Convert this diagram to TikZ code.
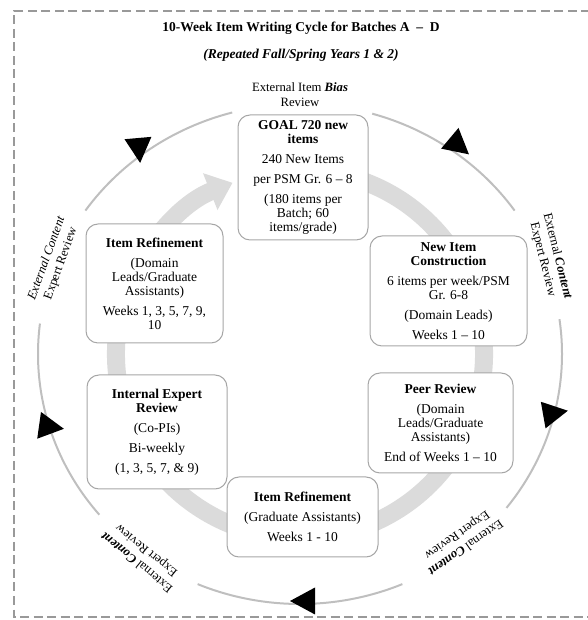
\documentclass[tikz,border=0pt]{standalone}
\usepackage{fontspec}
\setmainfont{Liberation Serif}
\usetikzlibrary{positioning, arrows.meta}
\tikzstyle{Box} = [
draw=black!35, line width=1pt, fill=white,
rounded corners=12pt, align=center, inner sep=2pt,
font=\fontsize{13.5}{14}\selectfont]
\tikzstyle{Ring} = [
line width=18pt, draw=black!14,
-{Triangle[width=38pt, length=24pt]}]
\tikzstyle{Cycle} = [line width=2pt, draw=black!25]
\tikzstyle{Label} = [align=center, inner sep=0pt,
font=\fontsize{12.7}{15}\selectfont]
\tikzstyle{Head} = [fill=black]

\begin{document}
\begin{tikzpicture}[x=1pt, y=1pt]
    \useasboundingbox (0,0) rectangle (587,620);
    \draw[black!40, line width=2.5pt, dash pattern=on 9pt off 4.5pt]
        (590,609) -- (14,609) -- (14,3) -- (590,3);
    \coordinate (0) at (300,266);

    \draw[Ring] (0) ++(72:184) arc[start angle=72, end angle=-248.5, radius=184];

    \draw[Cycle] (0) ++(74:262 and 250) arc[start angle=74, end angle=35, x radius=262, y radius=250];
    \draw[Cycle] (0) ++(8:262 and 250) arc[start angle=8, end angle=-38, x radius=262, y radius=250];
    \draw[Cycle] (0) ++(-67:262 and 250) arc[start angle=-67, end angle=-113, x radius=262, y radius=250];
    \draw[Cycle] (0) ++(220:262 and 250) arc[start angle=220, end angle=173, x radius=262, y radius=250];
    \draw[Cycle] (0) ++(145:262 and 250) arc[start angle=145, end angle=105, x radius=262, y radius=250];

    \fill[Head, shift={(139,470)}, rotate=-85] (13,0) -- (-12,13.5) -- (-12,-13.5) -- cycle;
    \fill[Head, shift={(459,474)}, rotate=-40] (13,0) -- (-12,13.5) -- (-12,-13.5) -- cycle;
    \fill[Head, shift={(555,207)}, rotate=10] (13,0) -- (-12,13.5) -- (-12,-13.5) -- cycle;
    \fill[Head, shift={(303,19)}, rotate=180] (13,0) -- (-12,13.5) -- (-12,-13.5) -- cycle;
    \fill[Head, shift={(51,193)}, rotate=-8] (13,0) -- (-12,13.5) -- (-12,-13.5) -- cycle;

    \node [Box, minimum width=130pt, minimum height=125pt] (1) at (303,442.5)
        {\textbf{GOAL 720 new}\\\textbf{items}\\[6pt]240 New Items\\[6pt]per PSM Gr. 6 -- 8\\[6pt](180 items per\\Batch; 60\\items/grade)};
    \node [Box, minimum width=157pt, minimum height=110pt] (2) at (448.5,329)
        {\textbf{New Item}\\\textbf{Construction}\\[6pt]6 items per week/PSM\\Gr. 6-8\\[6pt](Domain Leads)\\[6pt]Weeks 1 -- 10};
    \node [Box, minimum width=145pt, minimum height=100pt] (3) at (440.5,197)
        {\textbf{Peer Review}\\[6pt](Domain\\Leads/Graduate\\Assistants)\\[6pt]End of Weeks 1 -- 10};
    \node [Box, minimum width=151pt, minimum height=80pt] (4) at (302.5,103)
        {\textbf{Item Refinement}\\[6pt](Graduate Assistants)\\[6pt]Weeks 1 - 10};
    \node [Box, minimum width=140pt, minimum height=114pt] (5) at (157,188)
        {\textbf{Internal Expert}\\\textbf{Review}\\[6pt](Co-PIs)\\[6pt]Bi-weekly\\[6pt](1, 3, 5, 7, \& 9)};
    \node [Box, minimum width=137pt, minimum height=119pt] (6) at (154.5,336.5)
        {\textbf{Item Refinement}\\[6pt](Domain\\Leads/Graduate\\Assistants)\\[6pt]Weeks 1, 3, 5, 7, 9,\\10};

    \node [font=\fontsize{13.5}{16}\selectfont\bfseries] (7) at (301,592)
        {10-Week Item Writing Cycle for Batches A~~--~~D};
    \node [below =8pt of 7, font=\fontsize{13.5}{16}\selectfont\bfseries\itshape] (8)
        {(Repeated Fall/Spring Years 1 \& 2)};
    \node [Label] (9) at (300,525) {External Item \textbf{\textit{Bias}}\\Review};
    \node [Label, rotate=-76] (10) at (550,362) {External \textbf{\textit{Content}}\\Expert Review};
    \node [Label, rotate=70] (11) at (54,359) {\textit{External Content}\\Expert Review};
    \node [Label, rotate=141] (12) at (142,64) {External \textbf{\textit{Content}}\\Expert Review};
    \node [Label, rotate=215] (13) at (461,79) {External \textbf{\textit{Content}}\\Expert Review};
\end{tikzpicture}
\end{document}
